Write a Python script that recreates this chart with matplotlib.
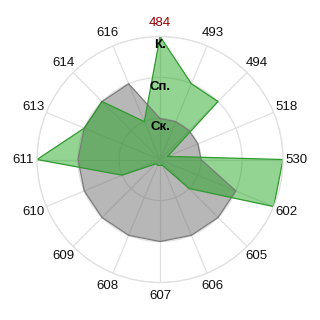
import numpy as np
import matplotlib
matplotlib.use('Agg')
import matplotlib.pyplot as plt

# categories clockwise from the top
categories = ['484', '493', '494', '518', '530', '602', '605', '606',
              '607', '608', '609', '610', '611', '613', '614', '616']
gray_vals = [1, 1, 1, 1, 1, 2, 2, 2, 2, 2, 2, 2, 2, 2, 2, 2]
green_vals = [3, 2, 2, 0.2, 3, 3, 1, 0.15, 0.15, 0.15, 0.15, 1, 3, 2, 2, 1]
ring_labels = ['Ск.', 'Сп.', 'К.']

plt.rcParams['font.family'] = ['Liberation Sans', 'DejaVu Sans']

n = len(categories)
theta = np.arange(n) * 2 * np.pi / n
th = np.append(theta, theta[0])

fig = plt.figure(figsize=(3.2, 3.2), dpi=100)
ax = fig.add_axes([0.1156, 0.117, 0.769, 0.769], projection='polar')
ax.set_theta_zero_location('N')
ax.set_theta_direction(-1)
ax.set_ylim(0, 3)
ax.set_axisbelow(True)

ax.set_xticks(theta)
ax.set_xticklabels([])
ax.set_yticks([1, 2, 3])
ax.set_yticklabels([])
ax.grid(True, color='#e0e0e0', lw=0.9)
ax.spines['polar'].set_color('#e0e0e0')
ax.spines['polar'].set_linewidth(0.9)
ax.tick_params(length=0)

# gray series
g = np.append(gray_vals, gray_vals[0])
ax.fill(th, g, color='#5a5a5a', alpha=0.43, lw=0)
ax.plot(th, g, color='#7a7a7a', lw=0.9)

# green series
gr = np.append(green_vals, green_vals[0])
ax.fill(th, gr, color='#10a010', alpha=0.45, lw=0)
ax.plot(th, gr, color='#2e9a2e', lw=0.9)

# category labels
for t, lab in zip(theta, categories):
    col = '#990000' if lab == '484' else '#111111'
    ax.text(t, 3.33, lab, ha='center', va='center', fontsize=9.5,
            color=col, clip_on=False)

# ring labels on the top spoke
for r, lab in zip([0.8, 1.78, 2.79], ring_labels):
    ax.text(0, r, lab, ha='center', va='center', fontsize=9.5,
            fontweight='bold', color='black')

fig.savefig('out.png', dpi=100)
